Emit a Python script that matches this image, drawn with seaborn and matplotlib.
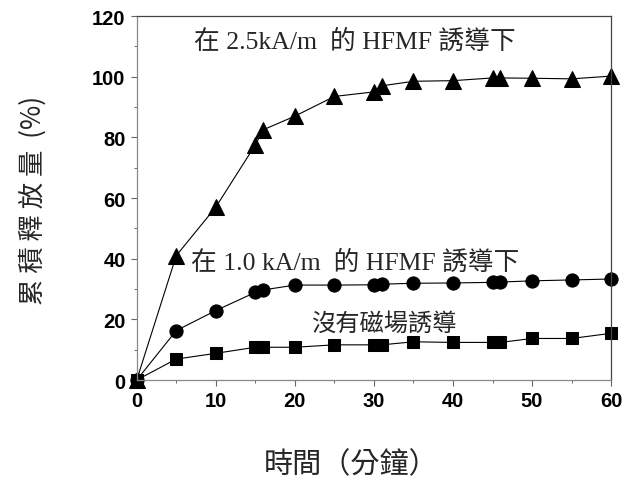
import matplotlib
matplotlib.use("Agg")
import matplotlib.pyplot as plt
from matplotlib.ticker import MultipleLocator
import seaborn as sns
import pandas as pd

# Sampling times (minutes)
time_min = [0, 5, 10, 15, 16, 20, 25, 30, 31, 35, 40, 45, 46, 50, 55, 60]

# Cumulative release (%) for each condition
release_25 = [0, 41, 57, 77.5, 82.5, 87, 93.5, 95, 97, 98.5, 98.7, 99.6, 99.6, 99.5, 99.3, 100.2]
release_10 = [0, 16.3, 22.9, 28.9, 29.7, 31.3, 31.3, 31.4, 31.6, 31.9, 32, 32.2, 32.3, 32.7, 33, 33.3]
release_0 = [0, 6.9, 8.8, 10.8, 10.8, 10.8, 11.6, 11.6, 11.6, 12.6, 12.4, 12.4, 12.4, 13.7, 13.7, 15.4]

series_names = ["2.5 kA/m", "1.0 kA/m", "none"]
series_markers = ["^", "o", "s"]
series_sizes = [11, 9.5, 8.5]

df = pd.DataFrame({
    "time": time_min * 3,
    "release": release_25 + release_10 + release_0,
    "field": [series_names[0]] * len(time_min)
    + [series_names[1]] * len(time_min)
    + [series_names[2]] * len(time_min),
})

sns.set_theme(style="ticks")
plt.rcParams["font.family"] = ["Liberation Sans", "Noto Sans CJK TC"]

fig = plt.figure(figsize=(6.3, 5.02), dpi=100)
ax = fig.add_axes([0.217, 0.241, 0.753, 0.725])

for name, mk, ms in zip(series_names, series_markers, series_sizes):
    sub = df[df["field"] == name]
    sns.lineplot(data=sub, x="time", y="release", ax=ax, color="black",
                 linewidth=0.8, marker=mk, markersize=ms,
                 markeredgecolor="black", markerfacecolor="black",
                 legend=False, errorbar=None, sort=False)

ax.set_xlim(0, 60)
ax.set_ylim(0, 120)
ax.xaxis.set_major_locator(MultipleLocator(10))
ax.xaxis.set_minor_locator(MultipleLocator(5))
ax.yaxis.set_major_locator(MultipleLocator(20))
ax.yaxis.set_minor_locator(MultipleLocator(10))
ax.tick_params(axis="both", which="major", direction="out", length=4,
               width=0.8, color="#666666", labelsize=14.5, pad=4,
               labelcolor="black")
ax.tick_params(axis="both", which="minor", direction="out", length=2,
               width=0.7, color="#666666")
for lab in ax.get_xticklabels() + ax.get_yticklabels():
    lab.set_fontweight("bold")

for side in ["left", "bottom", "top", "right"]:
    ax.spines[side].set_visible(True)
    ax.spines[side].set_linewidth(0.9)
ax.spines["left"].set_color("#888888")
ax.spines["bottom"].set_color("#888888")
ax.spines["top"].set_color("#444444")
ax.spines["right"].set_color("#444444")
for ln in ax.lines:
    ln.set_clip_on(False)

ax.set_xlabel("")
ax.set_ylabel("")

serif_cjk = ["Liberation Serif", "Noto Sans CJK TC"]
ax.text(7.2, 111.8, "在 2.5kA/m  的 HFMF 誘導下", family=serif_cjk,
        fontsize=18.5, va="center", ha="left")
ax.text(6.9, 38.9, "在 1.0 kA/m  的 HFMF 誘導下", family=serif_cjk,
        fontsize=18.5, va="center", ha="left")
ax.text(22.0, 18.5, "沒有磁場誘導", family=serif_cjk,
        fontsize=17.5, va="center", ha="left")

fig.text(0.557, 0.074, "時間（分鐘）", family=["Noto Sans CJK TC"],
         fontsize=21, ha="center", va="center")
fig.text(0.052, 0.60, "累 積 釋 放 量  (%)",
         family=["Noto Sans CJK TC", "Liberation Serif"],
         fontsize=19, ha="center", va="center", rotation=90)

fig.savefig("out.png", dpi=100)
